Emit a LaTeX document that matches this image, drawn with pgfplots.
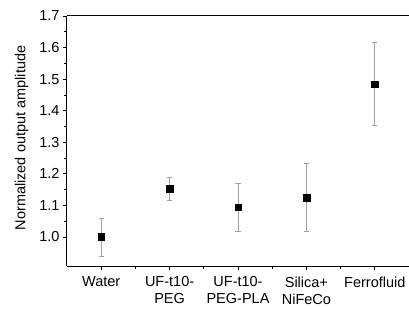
\documentclass[border=0pt]{standalone}
\usepackage{pgfplots}
\pgfplotsset{compat=1.18}
\usepackage{fontspec}
\setmainfont{Liberation Sans}
\begin{document}
\begin{tikzpicture}
\useasboundingbox (-67pt,-42pt) rectangle (342pt,266pt);
\begin{axis}[
  scale only axis,
  width=342pt, height=250pt,
  xmin=0.5, xmax=5.5,
  ymin=0.908, ymax=1.7,
  axis lines=left,
  axis line style={-, line width=1pt},
  tick align=outside,
  major tick length=4pt,
  minor tick length=2.5pt,
  every tick/.style={black, line width=0.8pt},
  xtick={1,2,3,4,5},
  minor xtick={1.5,2.5,3.5,4.5},
  xticklabels={Water, {UF-t10-\\PEG}, {UF-t10-\\PEG-PLA}, {Silica+\\NiFeCo}, Ferrofluid},
  x tick label style={align=center, font=\fontsize{14.5}{17}\selectfont, anchor=north, yshift=-3pt},
  ytick={1.0,1.1,1.2,1.3,1.4,1.5,1.6,1.7},
  minor y tick num=1,
  y tick label style={font=\fontsize{14.5}{17}\selectfont},
  yticklabel style={/pgf/number format/fixed, /pgf/number format/fixed zerofill, /pgf/number format/precision=1},
  /pgf/number format/assume math mode=true,
  ylabel={Normalized output amplitude},
  ylabel style={font=\fontsize{14.5}{17}\selectfont, yshift=4pt, xshift=3pt},
  clip=false,
]
\addplot[only marks, mark=square*, mark size=3.3pt, black,
  error bars/.cd, y dir=both, y explicit,
  error bar style={gray!75, line width=0.7pt},
  error mark options={rotate=90, mark size=2.6pt, gray!75, line width=0.7pt}]
coordinates {
  (1,1.000) += (0,0.060) -= (0,0.060)
  (2,1.153) += (0,0.035) -= (0,0.038)
  (3,1.094) += (0,0.076) -= (0,0.075)
  (4,1.125) += (0,0.108) -= (0,0.106)
  (5,1.484) += (0,0.131) -= (0,0.130)
};
\draw[line width=1pt] (rel axis cs:0,1) -- (rel axis cs:1,1);
\end{axis}
\end{tikzpicture}
\end{document}
